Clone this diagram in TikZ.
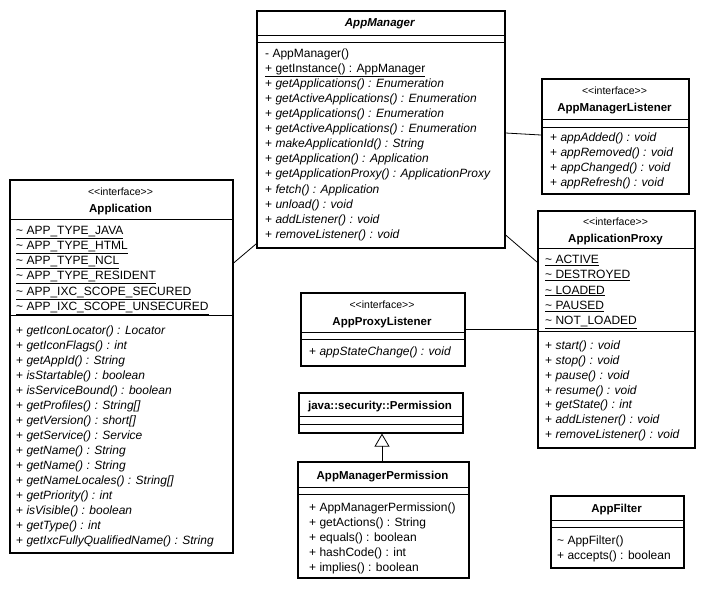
\documentclass[tikz,border=0pt]{standalone}
\usepackage{fontspec}
\setmainfont{Liberation Sans}
\usetikzlibrary{arrows.meta}
\newcommand\ulx[1]{\underline{#1}}
\newcommand\sterx{<{}<interface>{}>}
\begin{document}
\begin{tikzpicture}[x=1pt,y=-1pt,
  box/.style={draw, line width=1.6pt, anchor=north west, inner sep=0pt, fill=white},
  sepline/.style={line width=0.9pt},
  mem/.style={anchor=base west, inner sep=0pt, font=\fontsize{12}{14}\selectfont},
  ttl/.style={anchor=base, inner sep=0pt, font=\fontsize{11.5}{14}\selectfont\bfseries},
  ster/.style={anchor=base, inner sep=0pt, font=\fontsize{10.5}{12}\selectfont},
  conn/.style={line width=0.8pt}]
\useasboundingbox (0,0) rectangle (704,590);

% ---------- AppManager ----------
\node[box, minimum width=248pt, minimum height=237pt] (am) at (256,10) {};
\node[ttl] (am-t) at (380,26.5) {\textit{AppManager}};
\draw[sepline] (am.west |- 0,35) -- (am.east |- 0,35);
\draw[sepline] (am.west |- 0,42) -- (am.east |- 0,42);
\foreach \t [count=\i] in {
  - AppManager(),
  \ulx{+ getInstance() : AppManager},
  + \textit{getApplications() : Enumeration},
  + \textit{getActiveApplications() : Enumeration},
  + \textit{getApplications() : Enumeration},
  + \textit{getActiveApplications() : Enumeration},
  + \textit{makeApplicationId() : String},
  + \textit{getApplication() : Application},
  + \textit{getApplicationProxy() : ApplicationProxy},
  + \textit{fetch() : Application},
  + \textit{unload() : void},
  + \textit{addListener() : void},
  + \textit{removeListener() : void}}
  \node[mem] (am-\i) at (265,{57.3+15.08*(\i-1)}) {\t};

% ---------- AppManagerListener ----------
\node[box, minimum width=147pt, minimum height=115pt] (aml) at (541,78) {};
\node[ster] (aml-s) at (614.5,94.5) {\sterx};
\node[ttl] (aml-t) at (614.5,111.5) {AppManagerListener};
\draw[sepline] (aml.west |- 0,119) -- (aml.east |- 0,119);
\draw[sepline] (aml.west |- 0,127) -- (aml.east |- 0,127);
\foreach \t [count=\i] in {
  + \textit{appAdded() : void},
  + \textit{appRemoved() : void},
  + \textit{appChanged() : void},
  + \textit{appRefresh() : void}}
  \node[mem] (aml-\i) at (550,{141.3+15.2*(\i-1)}) {\t};

% ---------- Application ----------
\node[box, minimum width=223pt, minimum height=373pt] (app) at (9,179) {};
\node[ster] (app-s) at (120.5,195.5) {\sterx};
\node[ttl] (app-t) at (120.5,212.3) {Application};
\draw[sepline] (app.west |- 0,219) -- (app.east |- 0,219);
\foreach \t [count=\i] in {
  \ulx{\textasciitilde{} APP\_TYPE\_JAVA},
  \ulx{\textasciitilde{} APP\_TYPE\_HTML},
  \ulx{\textasciitilde{} APP\_TYPE\_NCL},
  \ulx{\textasciitilde{} APP\_TYPE\_RESIDENT},
  \ulx{\textasciitilde{} APP\_IXC\_SCOPE\_SECURED},
  \ulx{\textasciitilde{} APP\_IXC\_SCOPE\_UNSECURED}}
  \node[mem] (app-a\i) at (16,{234.3+15.2*(\i-1)}) {\t};
\draw[sepline] (app.west |- 0,315.5) -- (app.east |- 0,315.5);
\foreach \t [count=\i] in {
  + \textit{getIconLocator() : Locator},
  + \textit{getIconFlags() : int},
  + \textit{getAppId() : String},
  + \textit{isStartable() : boolean},
  + \textit{isServiceBound() : boolean},
  + \textit{getProfiles() : String[]},
  + \textit{getVersion() : short[]},
  + \textit{getService() : Service},
  + \textit{getName() : String},
  + \textit{getName() : String},
  + \textit{getNameLocales() : String[]},
  + \textit{getPriority() : int},
  + \textit{isVisible() : boolean},
  + \textit{getType() : int},
  + \textit{getIxcFullyQualifiedName() : String}}
  \node[mem] (app-m\i) at (16,{334.3+15*(\i-1)}) {\t};

% ---------- ApplicationProxy ----------
\node[box, minimum width=157pt, minimum height=237pt] (ap) at (537,210) {};
\node[ster] (ap-s) at (615.5,225.5) {\sterx};
\node[ttl] (ap-t) at (615.5,242.3) {ApplicationProxy};
\draw[sepline] (ap.west |- 0,248.5) -- (ap.east |- 0,248.5);
\foreach \t [count=\i] in {
  \ulx{\textasciitilde{} ACTIVE},
  \ulx{\textasciitilde{} DESTROYED},
  \ulx{\textasciitilde{} LOADED},
  \ulx{\textasciitilde{} PAUSED},
  \ulx{\textasciitilde{} NOT\_LOADED}}
  \node[mem] (ap-a\i) at (545,{263.5+15.3*(\i-1)}) {\t};
\draw[sepline] (ap.west |- 0,331.5) -- (ap.east |- 0,331.5);
\foreach \t [count=\i] in {
  + \textit{start() : void},
  + \textit{stop() : void},
  + \textit{pause() : void},
  + \textit{resume() : void},
  + \textit{getState() : int},
  + \textit{addListener() : void},
  + \textit{removeListener() : void}}
  \node[mem] (ap-m\i) at (545,{349.3+14.9*(\i-1)}) {\t};

% ---------- AppProxyListener ----------
\node[box, minimum width=164pt, minimum height=73pt] (apl) at (300,292) {};
\node[ster] (apl-s) at (382,308) {\sterx};
\node[ttl] (apl-t) at (382,325) {AppProxyListener};
\draw[sepline] (apl.west |- 0,332) -- (apl.east |- 0,332);
\draw[sepline] (apl.west |- 0,339) -- (apl.east |- 0,339);
\node[mem] (apl-1) at (309,355.5) {+ \textit{appStateChange() : void}};

% ---------- java::security::Permission ----------
\node[box, minimum width=164pt, minimum height=40pt] (perm) at (298,392) {};
\node[ttl] (perm-t) at (380,409) {java::security::Permission};
\draw[sepline] (perm.west |- 0,416) -- (perm.east |- 0,416);
\draw[sepline] (perm.west |- 0,424) -- (perm.east |- 0,424);

% ---------- AppManagerPermission ----------
\node[box, minimum width=171pt, minimum height=116pt] (amp) at (297,461) {};
\node[ttl] (amp-t) at (382.5,479) {AppManagerPermission};
\draw[sepline] (amp.west |- 0,487) -- (amp.east |- 0,487);
\draw[sepline] (amp.west |- 0,494) -- (amp.east |- 0,494);
\foreach \t [count=\i] in {
  + AppManagerPermission(),
  + getActions() : String,
  + equals() : boolean,
  + hashCode() : int,
  + implies() : boolean}
  \node[mem] (amp-\i) at (309,{511.3+15*(\i-1)}) {\t};

% ---------- AppFilter ----------
\node[box, minimum width=133pt, minimum height=72pt] (af) at (550,495) {};
\node[ttl] (af-t) at (616.5,512) {AppFilter};
\draw[sepline] (af.west |- 0,520.5) -- (af.east |- 0,520.5);
\draw[sepline] (af.west |- 0,527) -- (af.east |- 0,527);
\node[mem] (af-1) at (557,544.3) {\textasciitilde{} AppFilter()};
\node[mem] (af-2) at (557,559.3) {+ accepts() : boolean};

% ---------- connectors ----------
\draw[conn] (am.west |- 0,244) -- (app.east |- 0,263);
\draw[conn] (am.east |- 0,133) -- (aml.west |- 0,135);
\draw[conn] (am.east |- 0,235) -- (ap.west |- 0,262);
\draw[conn] (apl.east |- 0,329) -- (ap.west |- 0,329);
\draw[conn, -{Triangle[open, length=13pt, width=15pt, line width=0.8pt]}]
  (amp.north -| 382,0) -- (perm.south -| 382,0);
\end{tikzpicture}
\end{document}
